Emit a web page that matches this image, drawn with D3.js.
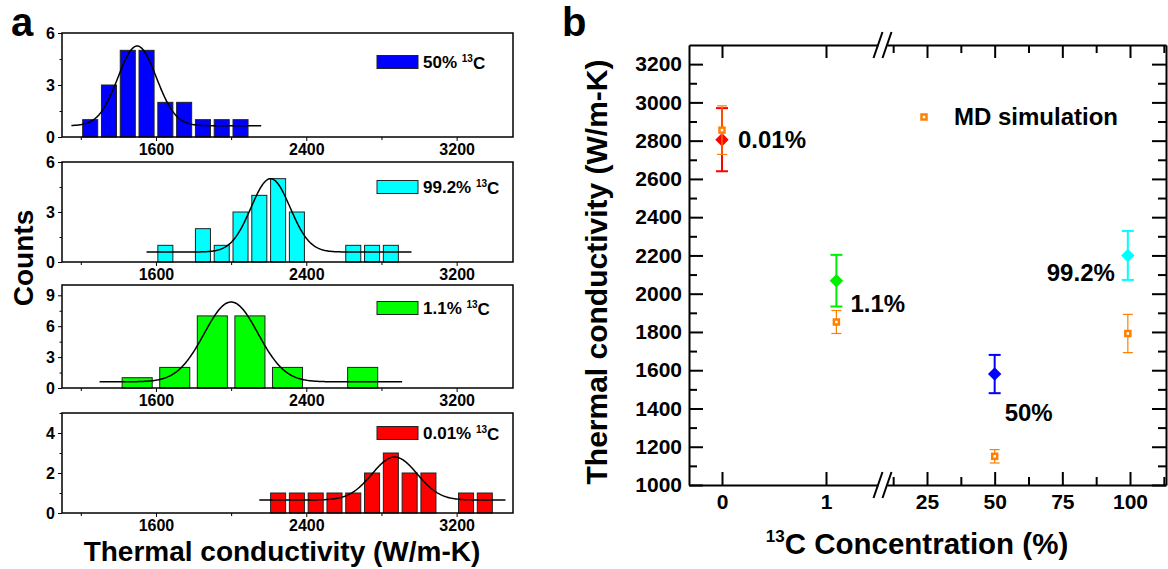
<!DOCTYPE html>
<html>
<head>
<meta charset="utf-8">
<title>Thermal conductivity vs 13C</title>
<script src="https://cdn.jsdelivr.net/npm/d3@7"></script>
<style>
  body { margin: 0; background: #fff; }
  svg { font-family: "Liberation Sans", Arial, sans-serif; font-weight: bold; }
  .frame { fill: none; stroke: #000; stroke-width: 1.5; }
  .axis line { stroke: #000; }
  .axis text { font-family: "Liberation Sans", Arial, sans-serif; font-weight: bold; fill: #000; }
</style>
</head>
<body>
<svg width="1168" height="569"></svg>
<script>
// ---- panel a: histograms ----
const histLabels = ['50%', '99.2%', '1.1%', '0.01%'];
const histColors = ['#0000ff', '#00ffff', '#00ff00', '#ff0000'];
const histBinWidth = [100, 100, 200, 100];
const histBinStart = [
  [1100, 1200, 1300, 1400, 1500, 1600, 1700, 1800, 1900, 2000, 2100],
  [1600, 1700, 1800, 1900, 2000, 2100, 2200, 2300, 2400, 2500, 2600, 2700, 2800],
  [1400, 1600, 1800, 2000, 2200, 2400, 2600],
  [2200, 2300, 2400, 2500, 2600, 2700, 2800, 2900, 3000, 3100, 3200, 3300]
];
const histCounts = [
  [0, 1, 3, 5, 5, 2, 2, 1, 1, 1, 0],
  [1, 0, 2, 1, 3, 4, 5, 3, 0, 0, 1, 1, 1],
  [1, 2, 7, 7, 2, 0, 2],
  [1, 1, 1, 1, 1, 2, 3, 2, 2, 0, 1, 1]
];
const histYMax = [6, 6, 10, 5];
const histYTicks = [[0, 3, 6], [0, 3, 6], [0, 3, 6, 9], [0, 2, 4]];
const histYMinor = [[1.5, 4.5], [1.5, 4.5], [1.5, 4.5, 7.5], [1, 3, 5]];
const histXTicks = [1600, 2400, 3200];
const histXMinor = [1200, 2000, 2800];

// gaussian fit parameters (y0 + A*exp(-(x-xc)^2/(2 s^2)))
const fitY0 = [0.65, 0.6, 0.6, 0.65];
const fitA = [4.6, 4.4, 7.75, 2.15];
const fitXc = [1500, 2210, 2000, 2870];
const fitSigma = [102, 104, 143, 120];
const fitFrom = [1150, 1550, 1300, 2150];
const fitTo = [2160, 2960, 2910, 3460];

// ---- panel b: conductivity vs concentration ----
const concLabels = ['0.01%', '1.1%', '50%', '99.2%'];
const concX = [0, 1.1, 50, 99.2];
const expK = [2805, 2068, 1580, 2200];
const expErr = [165, 135, 100, 128];
const expColors = ['#ff0000', '#00ee00', '#0000ff', '#00ffff'];
const mdK = [2855, 1852, 1150, 1792];
const mdErr = [127, 60, 35, 100];
const bYTicks = [1000, 1200, 1400, 1600, 1800, 2000, 2200, 2400, 2600, 2800, 3000, 3200];
const bYMinor = [1100, 1300, 1500, 1700, 1900, 2100, 2300, 2500, 2700, 2900, 3100];
const bXTicksLow = [0, 1];
const bXTicksHigh = [25, 50, 75, 100];
const bXMinorHigh = [12.5, 37.5, 62.5, 87.5, 112.5];

const svg = d3.select('svg');
const orange = '#ff8000';
const fmt = d3.format('d');

// panel a
const ax = d3.scaleLinear().domain([1100, 3500]).range([62, 513]);
const panelTop = [33, 162, 285, 413];
const panelBottom = [137, 262, 388, 513];
const legendY = [62, 187, 308, 433];

histLabels.forEach((lab, i) => {
  const y = d3.scaleLinear().domain([0, histYMax[i]]).range([panelBottom[i], panelTop[i]]);
  const g = svg.append('g');
  const bw = histBinWidth[i];
  const bins = histBinStart[i].map((s, j) => ({ s, c: histCounts[i][j] }));

  g.selectAll('rect.bar').data(bins)
    .enter().append('rect')
      .attr('class', 'bar')
      .attr('x', d => ax(d.s + bw * 0.1))
      .attr('width', d => ax(d.s + bw * 0.9) - ax(d.s + bw * 0.1))
      .attr('y', d => y(d.c))
      .attr('height', d => y(0) - y(d.c))
      .attr('fill', histColors[i])
      .attr('stroke', '#222')
      .attr('stroke-width', 1);

  const fx = d3.range(fitFrom[i], fitTo[i] + 1, 5);
  const line = d3.line()
    .x(v => ax(v))
    .y(v => y(fitY0[i] + fitA[i] * Math.exp(-((v - fitXc[i]) ** 2) / (2 * fitSigma[i] ** 2))));
  g.append('path').datum(fx)
    .attr('d', line)
    .attr('fill', 'none')
    .attr('stroke', '#000')
    .attr('stroke-width', 1.5);

  g.append('g').attr('class', 'axis')
    .attr('transform', `translate(0,${panelBottom[i]})`)
    .call(d3.axisBottom(ax).tickValues(histXTicks).tickFormat(fmt).tickSize(4).tickSizeOuter(0).tickPadding(3))
    .call(s => s.select('.domain').remove())
    .call(s => s.selectAll('text').attr('font-size', 16));
  g.append('g').attr('class', 'axis')
    .attr('transform', `translate(0,${panelBottom[i]})`)
    .call(d3.axisBottom(ax).tickValues(histXMinor).tickSize(3).tickSizeOuter(0).tickFormat(''))
    .call(s => s.select('.domain').remove());
  g.append('g').attr('class', 'axis')
    .attr('transform', 'translate(62,0)')
    .call(d3.axisLeft(y).tickValues(histYTicks[i]).tickFormat(fmt).tickSize(4).tickSizeOuter(0).tickPadding(3))
    .call(s => s.select('.domain').remove())
    .call(s => s.selectAll('text').attr('font-size', 16));
  g.append('g').attr('class', 'axis')
    .attr('transform', 'translate(62,0)')
    .call(d3.axisLeft(y).tickValues(histYMinor[i]).tickSize(2.5).tickSizeOuter(0).tickFormat(''))
    .call(s => s.select('.domain').remove());

  g.append('rect').attr('class', 'frame')
    .attr('x', 62).attr('y', panelTop[i])
    .attr('width', 513 - 62).attr('height', panelBottom[i] - panelTop[i]);

  // legend
  g.append('rect')
    .attr('x', 377).attr('y', legendY[i] - 6.5)
    .attr('width', 41).attr('height', 13)
    .attr('fill', histColors[i]).attr('stroke', '#222');
  const t = g.append('text')
    .attr('x', 423).attr('y', legendY[i]).attr('dy', '0.35em')
    .attr('font-size', 17);
  t.append('tspan').text(lab + ' ');
  t.append('tspan').attr('font-size', 10).attr('dy', '-0.55em').text('13');
  t.append('tspan').attr('dy', '0.4em').text('C');
});

svg.append('text').attr('x', 11).attr('y', 36).attr('font-size', 40).text('a');
svg.append('text')
  .attr('transform', 'translate(33,258) rotate(-90)')
  .attr('text-anchor', 'middle').attr('font-size', 28).text('Counts');
svg.append('text')
  .attr('x', 282).attr('y', 561)
  .attr('text-anchor', 'middle').attr('font-size', 28)
  .text('Thermal conductivity (W/m-K)');

// panel b
const bLeft = 689, bRight = 1166, bTop = 45, bBottom = 485;
const by = d3.scaleLinear().domain([1000, 3300]).range([bBottom, bTop]);
const xLow = d3.scaleLinear().domain([0, 1]).range([722, 826]);
const xHigh = d3.scaleLinear().domain([25, 100]).range([927, 1130]);
xLow.domain([xLow.invert(bLeft), xLow.invert(878)]).range([bLeft, 878]);
xHigh.domain([xHigh.invert(887), xHigh.invert(bRight)]).range([887, bRight]);
const bx = v => (v < 5 ? xLow(v) : xHigh(v));

const gb = svg.append('g');
const axisStyle = s => s.select('.domain').attr('stroke', '#000').attr('stroke-width', 2);
const tickStyle = s => s.selectAll('line').attr('stroke-width', 2);

[[xLow, bXTicksLow, []], [xHigh, bXTicksHigh, bXMinorHigh]].forEach(([sc, major, minor]) => {
  gb.append('g').attr('class', 'axis')
    .attr('transform', `translate(0,${bBottom})`)
    .call(d3.axisBottom(sc).tickValues(major).tickFormat(fmt).tickSizeInner(-13).tickSizeOuter(0).tickPadding(9))
    .call(axisStyle).call(tickStyle)
    .call(s => s.selectAll('text').attr('font-size', 21));
  gb.append('g').attr('class', 'axis')
    .attr('transform', `translate(0,${bBottom})`)
    .call(d3.axisBottom(sc).tickValues(minor).tickSizeInner(-8).tickSizeOuter(0).tickFormat(''))
    .call(s => s.select('.domain').remove()).call(tickStyle);
  gb.append('g').attr('class', 'axis')
    .attr('transform', `translate(0,${bTop})`)
    .call(d3.axisTop(sc).tickValues(major).tickSizeInner(-13).tickSizeOuter(0).tickFormat(''))
    .call(axisStyle).call(tickStyle);
  gb.append('g').attr('class', 'axis')
    .attr('transform', `translate(0,${bTop})`)
    .call(d3.axisTop(sc).tickValues(minor).tickSizeInner(-8).tickSizeOuter(0).tickFormat(''))
    .call(s => s.select('.domain').remove()).call(tickStyle);
});

gb.append('g').attr('class', 'axis')
  .attr('transform', `translate(${bLeft},0)`)
  .call(d3.axisLeft(by).tickValues(bYTicks).tickFormat(fmt).tickSizeInner(-14).tickSizeOuter(0).tickPadding(7))
  .call(axisStyle).call(tickStyle)
  .call(s => s.selectAll('text').attr('font-size', 21));
gb.append('g').attr('class', 'axis')
  .attr('transform', `translate(${bLeft},0)`)
  .call(d3.axisLeft(by).tickValues(bYMinor).tickSizeInner(-8).tickSizeOuter(0).tickFormat(''))
  .call(s => s.select('.domain').remove()).call(tickStyle);
gb.append('g').attr('class', 'axis')
  .attr('transform', `translate(${bRight},0)`)
  .call(d3.axisRight(by).tickValues(bYTicks).tickSizeInner(-14).tickSizeOuter(0).tickFormat(''))
  .call(axisStyle).call(tickStyle);
gb.append('g').attr('class', 'axis')
  .attr('transform', `translate(${bRight},0)`)
  .call(d3.axisRight(by).tickValues(bYMinor).tickSizeInner(-8).tickSizeOuter(0).tickFormat(''))
  .call(s => s.select('.domain').remove()).call(tickStyle);

// axis break marks
[bTop, bBottom].forEach(yy => {
  [878, 887].forEach(xx => {
    gb.append('line')
      .attr('x1', xx - 4.5).attr('y1', yy + 13)
      .attr('x2', xx + 4.5).attr('y2', yy - 13)
      .attr('stroke', '#000').attr('stroke-width', 2);
  });
});

// experimental points
concX.forEach((c, i) => {
  const x = bx(c);
  const col = expColors[i];
  gb.append('line')
    .attr('x1', x).attr('x2', x)
    .attr('y1', by(expK[i] - expErr[i])).attr('y2', by(expK[i] + expErr[i]))
    .attr('stroke', col).attr('stroke-width', 2);
  [expK[i] - expErr[i], expK[i] + expErr[i]].forEach(v => {
    gb.append('line')
      .attr('x1', x - 6).attr('x2', x + 6)
      .attr('y1', by(v)).attr('y2', by(v))
      .attr('stroke', col).attr('stroke-width', 2);
  });
  gb.append('path')
    .attr('d', d3.symbol(d3.symbolSquare, 90)())
    .attr('transform', `translate(${x},${by(expK[i])}) rotate(45)`)
    .attr('fill', col);
});

// MD simulation points
concX.forEach((c, i) => {
  const x = bx(c);
  gb.append('line')
    .attr('x1', x).attr('x2', x)
    .attr('y1', by(mdK[i] - mdErr[i])).attr('y2', by(mdK[i] + mdErr[i]))
    .attr('stroke', orange).attr('stroke-width', 1.2);
  [mdK[i] - mdErr[i], mdK[i] + mdErr[i]].forEach(v => {
    gb.append('line')
      .attr('x1', x - 5).attr('x2', x + 5)
      .attr('y1', by(v)).attr('y2', by(v))
      .attr('stroke', orange).attr('stroke-width', 1.2);
  });
  gb.append('rect')
    .attr('x', x - 2.5).attr('y', by(mdK[i]) - 2.5)
    .attr('width', 5).attr('height', 5)
    .attr('fill', '#fff').attr('stroke', orange).attr('stroke-width', 2.5);
});

// point labels
const labelOffset = [[16, 0, 'start'], [14, 23, 'start'], [10, 39, 'start'], [-13, 17, 'end']];
concLabels.forEach((lab, i) => {
  const [dx, dy, anchor] = labelOffset[i];
  gb.append('text')
    .attr('x', bx(concX[i]) + dx).attr('y', by(expK[i]) + dy)
    .attr('dy', '0.35em').attr('text-anchor', anchor)
    .attr('font-size', 24).text(lab);
});

// legend
gb.append('rect')
  .attr('x', 921.5).attr('y', 114.5).attr('width', 5).attr('height', 5)
  .attr('fill', '#fff').attr('stroke', orange).attr('stroke-width', 2.5);
gb.append('text').attr('x', 954).attr('y', 117).attr('dy', '0.35em')
  .attr('font-size', 24).text('MD simulation');

svg.append('text').attr('x', 562).attr('y', 36).attr('font-size', 40).text('b');
svg.append('text')
  .attr('transform', 'translate(607,272) rotate(-90)')
  .attr('text-anchor', 'middle').attr('font-size', 30)
  .text('Thermal conductivity (W/m-K)');
const xt = svg.append('text')
  .attr('x', 917).attr('y', 553)
  .attr('text-anchor', 'middle').attr('font-size', 29.5);
xt.append('tspan').attr('font-size', 17).attr('dy', '-0.65em').text('13');
xt.append('tspan').attr('dy', '0.4em').text('C Concentration (%)');
</script>
</body>
</html>
